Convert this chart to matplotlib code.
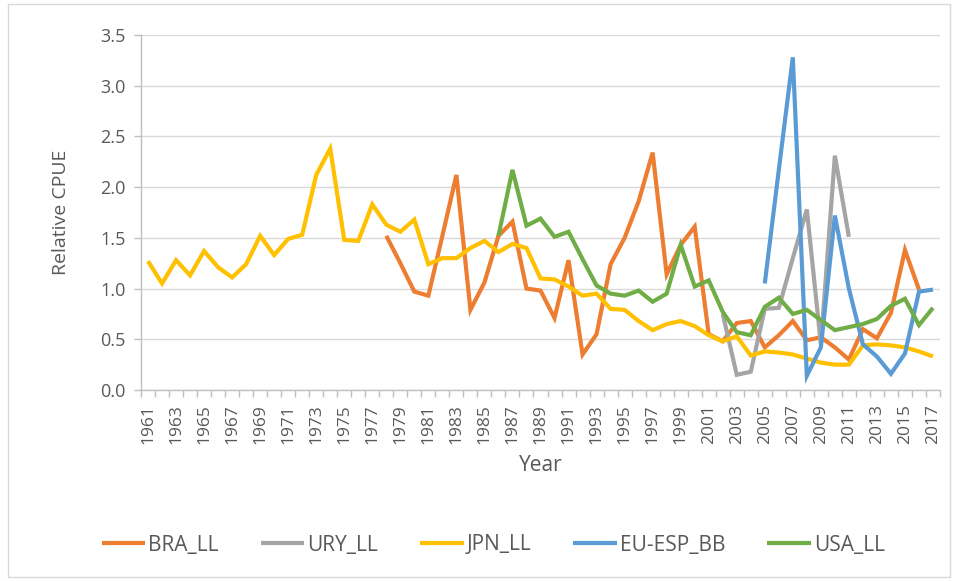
import numpy as np
import matplotlib
matplotlib.use("Agg")
import matplotlib.pyplot as plt
from matplotlib.patches import Rectangle

years = list(range(1961, 2018))

bra_start = 1978
bra_ll = [1.52, 1.25, 0.97, 0.93, 1.52, 2.12, 0.79, 1.06, 1.52, 1.66,
          1.00, 0.98, 0.71, 1.28, 0.35, 0.55, 1.24, 1.50, 1.86, 2.34,
          1.14, 1.43, 1.61, 0.55, 0.48, 0.66, 0.68, 0.42, 0.54, 0.68,
          0.49, 0.52, 0.42, 0.30, 0.60, 0.51, 0.76, 1.38, 0.99]

ury_start = 2002
ury_ll = [0.75, 0.15, 0.18, 0.80, 0.81, 1.30, 1.78, 0.45, 2.31, 1.51]

jpn_start = 1961
jpn_ll = [1.27, 1.05, 1.28, 1.13, 1.37, 1.21, 1.11, 1.24, 1.52, 1.33,
          1.49, 1.53, 2.12, 2.38, 1.48, 1.47, 1.83, 1.63, 1.56, 1.68,
          1.24, 1.30, 1.30, 1.40, 1.47, 1.36, 1.44, 1.40, 1.10, 1.09,
          1.02, 0.93, 0.95, 0.80, 0.79, 0.68, 0.59, 0.65, 0.68, 0.63,
          0.54, 0.48, 0.53, 0.34, 0.38, 0.37, 0.35, 0.31, 0.27, 0.25,
          0.25, 0.44, 0.45, 0.44, 0.42, 0.38, 0.33]

eu_start = 2005
eu_esp_bb = [1.05, 2.17, 3.28, 0.14, 0.42, 1.72, 1.00, 0.45, 0.33, 0.16,
             0.36, 0.97, 0.99]

usa_start = 1986
usa_ll = [1.52, 2.17, 1.62, 1.69, 1.51, 1.56, 1.29, 1.03, 0.95, 0.93,
          0.98, 0.87, 0.95, 1.43, 1.02, 1.08, 0.77, 0.57, 0.54, 0.82,
          0.91, 0.75, 0.79, 0.69, 0.59, 0.62, 0.65, 0.70, 0.83, 0.90,
          0.64, 0.81]

series = [
    ("BRA_LL", bra_start, bra_ll, "#ED7D31"),
    ("URY_LL", ury_start, ury_ll, "#A5A5A5"),
    ("JPN_LL", jpn_start, jpn_ll, "#FFC000"),
    ("EU-ESP_BB", eu_start, eu_esp_bb, "#5B9BD5"),
    ("USA_LL", usa_start, usa_ll, "#70AD47"),
]

plt.rcParams['font.family'] = ['Open Sans', 'DejaVu Sans']

fig = plt.figure(figsize=(9.58, 5.81), dpi=100)
ax = fig.add_axes([141/958, 1-390/581, (940-141)/958, (390-35)/581])

for name, start, vals, col in series:
    xs = list(range(start, start + len(vals)))
    ax.plot(xs, vals, color=col, lw=3.0, label=name, solid_joinstyle='miter',
            solid_capstyle='butt')

ax.set_xlim(1960.5, 2017.5)
ax.set_ylim(0, 3.5)
ax.set_yticks(np.arange(0, 3.51, 0.5))
ax.set_yticklabels([f"{v:.1f}" for v in np.arange(0, 3.51, 0.5)],
                   fontsize=13, color="#595959")
ax.set_xticks(years[::2])
ax.set_xticklabels([str(y) for y in years[::2]], rotation=90, fontsize=12.5,
                   color="#595959")
ax.set_xticks(np.arange(1960.5, 2018, 1), minor=True)
ax.tick_params(axis='x', which='major', length=0, pad=10)
ax.tick_params(axis='x', which='minor', length=5, color="#BFBFBF", width=1)
ax.tick_params(axis='y', which='major', length=5, color="#BFBFBF", width=1, pad=6)

ax.grid(axis='y', color="#D9D9D9", lw=1)
ax.set_axisbelow(True)
for s in ['top', 'right']:
    ax.spines[s].set_visible(False)
for s in ['left', 'bottom']:
    ax.spines[s].set_color("#BFBFBF")
    ax.spines[s].set_linewidth(1)

ax.set_xlabel("Year", fontsize=15, color="#595959", labelpad=8)
ax.set_ylabel("Relative CPUE", fontsize=14, color="#595959", labelpad=22)

fig.legend(loc='center', bbox_to_anchor=(0.515, 1-545/581), ncol=5,
           frameon=False, fontsize=15, handlelength=2.1, handletextpad=0.15,
           columnspacing=2.0, labelcolor="#595959")

fig.patches.append(Rectangle((8/958, 1-577/581), (950-8)/958, (577-4)/581,
                             transform=fig.transFigure, fill=False,
                             edgecolor="#D9D9D9", lw=1))

fig.savefig("out.png", dpi=100)
